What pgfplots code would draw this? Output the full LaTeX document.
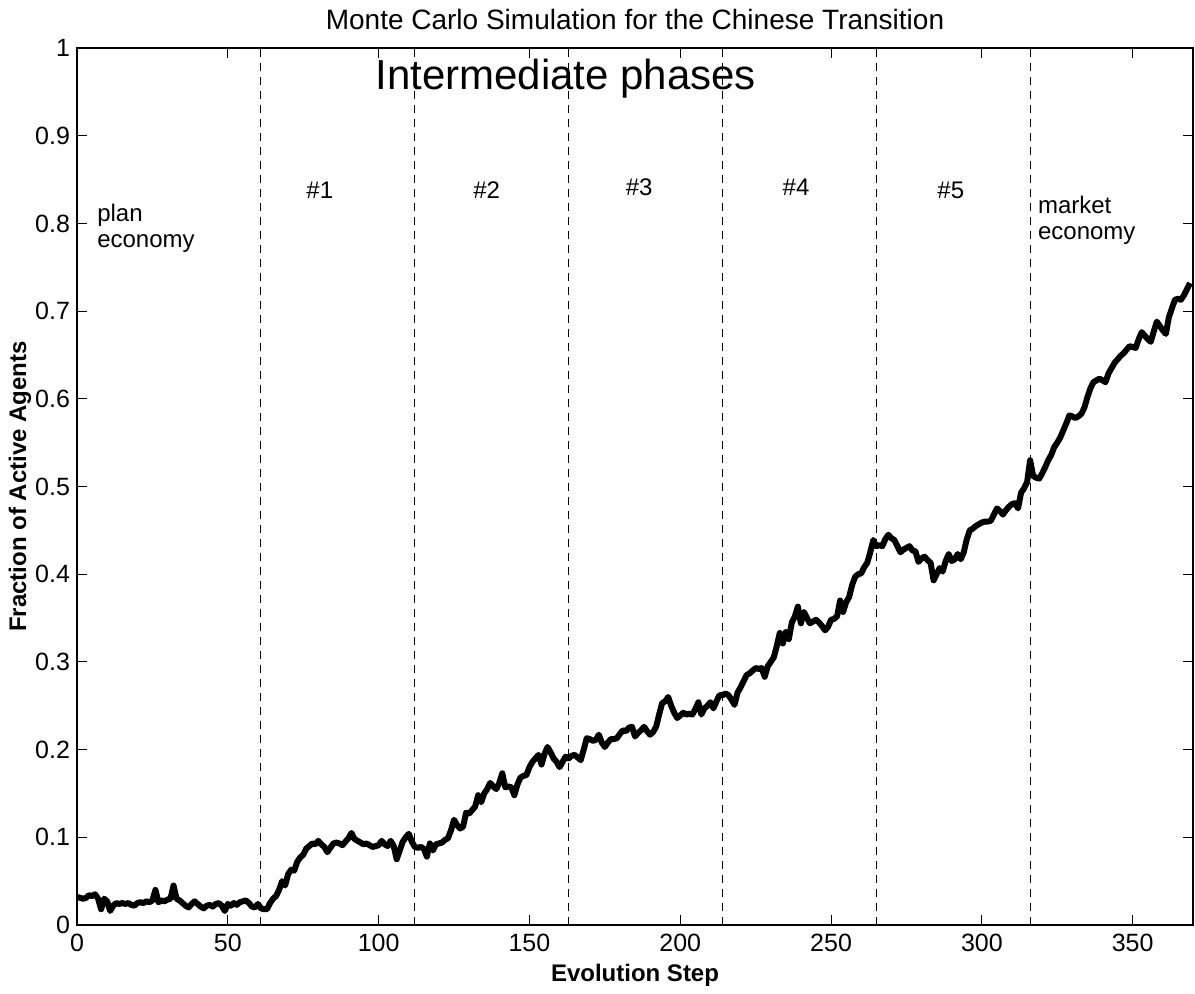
\documentclass[border=0pt]{standalone}
\usepackage{pgfplots}
\pgfplotsset{compat=1.18}
\usepackage{fontspec}
\setmainfont{Liberation Sans}
\begin{document}
\begin{tikzpicture}
\useasboundingbox (-38.5pt,-34pt) rectangle (559pt,462.5pt);
\begin{axis}[at={(0,0)}, anchor=south west, scale only axis,
  width=558pt, height=438.5pt,
  xmin=0, xmax=370, ymin=0, ymax=1,
  xtick={0,50,100,150,200,250,300,350},
  ytick={0,0.1,0.2,0.3,0.4,0.5,0.6,0.7,0.8,0.9,1},
  yticklabels={0,0.1,0.2,0.3,0.4,0.5,0.6,0.7,0.8,0.9,1},
  /pgf/number format/assume math mode=true,
  tick align=inside, major tick length=5pt,
  xtick pos=both, ytick pos=both,
  xticklabel pos=lower, yticklabel pos=left,
  tick style={black, line width=0.5pt},
  axis line style={line width=0.6pt},
  ticklabel style={font=\fontsize{12.5}{14}\selectfont},
  xticklabel style={yshift=-1pt},
  xlabel={Evolution Step},
  xlabel style={at={(axis description cs:0.5,-0.057)}, anchor=center, font=\bfseries\fontsize{12}{14}\selectfont},
  ylabel={Fraction of Active Agents},
  ylabel style={at={(axis description cs:-0.051,0.5)}, anchor=center, font=\bfseries\fontsize{12}{14}\selectfont},
  clip=false,
]
\addplot[black, line width=0.5pt, dash pattern=on 4pt off 3pt] coordinates {(61,0) (61,1)};
\addplot[black, line width=0.5pt, dash pattern=on 4pt off 3pt] coordinates {(112,0) (112,1)};
\addplot[black, line width=0.5pt, dash pattern=on 4pt off 3pt] coordinates {(163,0) (163,1)};
\addplot[black, line width=0.5pt, dash pattern=on 4pt off 3pt] coordinates {(214,0) (214,1)};
\addplot[black, line width=0.5pt, dash pattern=on 4pt off 3pt] coordinates {(265,0) (265,1)};
\addplot[black, line width=0.5pt, dash pattern=on 4pt off 3pt] coordinates {(316,0) (316,1)};
\addplot[black, line width=3pt, line join=round] table {
x y
0 0.032
1 0.031
2 0.030
3 0.031
4 0.034
5 0.033
6 0.035
7 0.030
8 0.018
9 0.030
10 0.027
11 0.016
12 0.022
13 0.025
14 0.024
15 0.025
16 0.024
17 0.025
18 0.023
19 0.022
20 0.025
21 0.026
22 0.025
23 0.027
24 0.026
25 0.028
26 0.040
27 0.026
28 0.028
29 0.027
30 0.029
31 0.030
32 0.045
33 0.030
34 0.028
35 0.025
36 0.022
37 0.020
38 0.024
39 0.027
40 0.024
41 0.021
42 0.019
43 0.022
44 0.023
45 0.021
46 0.024
47 0.025
48 0.022
49 0.016
50 0.024
51 0.022
52 0.025
53 0.023
54 0.026
55 0.027
56 0.028
57 0.025
58 0.021
59 0.020
60 0.024
61 0.019
62 0.018
63 0.018
64 0.025
65 0.030
66 0.033
67 0.040
68 0.050
69 0.045
70 0.058
71 0.063
72 0.062
73 0.072
74 0.077
75 0.080
76 0.087
77 0.090
78 0.093
79 0.092
80 0.096
81 0.092
82 0.089
83 0.083
84 0.088
85 0.093
86 0.094
87 0.093
88 0.091
89 0.095
90 0.099
91 0.105
92 0.098
93 0.096
94 0.094
95 0.092
96 0.093
97 0.091
98 0.089
99 0.090
100 0.091
101 0.096
102 0.092
103 0.090
104 0.096
105 0.090
106 0.075
107 0.085
108 0.095
109 0.100
110 0.104
111 0.095
112 0.089
113 0.088
114 0.089
115 0.087
116 0.078
117 0.093
118 0.085
119 0.092
120 0.093
121 0.094
122 0.097
123 0.099
124 0.108
125 0.120
126 0.114
127 0.110
128 0.112
129 0.128
130 0.127
131 0.131
132 0.135
133 0.148
134 0.140
135 0.150
136 0.155
137 0.162
138 0.158
139 0.155
140 0.162
141 0.173
142 0.157
143 0.158
144 0.157
145 0.148
146 0.160
147 0.168
148 0.170
149 0.171
150 0.180
151 0.186
152 0.190
153 0.194
154 0.183
155 0.195
156 0.203
157 0.197
158 0.190
159 0.186
160 0.180
161 0.186
162 0.192
163 0.190
164 0.193
165 0.194
166 0.191
167 0.188
168 0.200
169 0.213
170 0.212
171 0.210
172 0.211
173 0.217
174 0.208
175 0.203
176 0.208
177 0.212
178 0.212
179 0.213
180 0.218
181 0.222
182 0.221
183 0.225
184 0.226
185 0.215
186 0.219
187 0.222
188 0.226
189 0.221
190 0.217
191 0.220
192 0.226
193 0.240
194 0.253
195 0.255
196 0.260
197 0.250
198 0.242
199 0.236
200 0.239
201 0.242
202 0.240
203 0.241
204 0.240
205 0.246
206 0.254
207 0.240
208 0.247
209 0.250
210 0.254
211 0.247
212 0.255
213 0.262
214 0.262
215 0.264
216 0.262
217 0.257
218 0.251
219 0.265
220 0.271
221 0.278
222 0.285
223 0.287
224 0.290
225 0.293
226 0.292
227 0.293
228 0.283
229 0.295
230 0.300
231 0.305
232 0.318
233 0.333
234 0.321
235 0.334
236 0.326
237 0.345
238 0.352
239 0.363
240 0.344
241 0.357
242 0.350
243 0.344
244 0.346
245 0.348
246 0.345
247 0.341
248 0.336
249 0.340
250 0.348
251 0.349
252 0.352
253 0.370
254 0.357
255 0.368
256 0.374
257 0.388
258 0.397
259 0.400
260 0.401
261 0.408
262 0.413
263 0.425
264 0.439
265 0.432
266 0.433
267 0.432
268 0.440
269 0.445
270 0.441
271 0.439
272 0.432
273 0.425
274 0.428
275 0.430
276 0.432
277 0.427
278 0.426
279 0.414
280 0.418
281 0.420
282 0.416
283 0.413
284 0.393
285 0.400
286 0.407
287 0.403
288 0.415
289 0.423
290 0.415
291 0.417
292 0.423
293 0.417
294 0.425
295 0.440
296 0.450
297 0.452
298 0.455
299 0.457
300 0.459
301 0.460
302 0.460
303 0.461
304 0.468
305 0.475
306 0.472
307 0.468
308 0.473
309 0.477
310 0.480
311 0.481
312 0.475
313 0.493
314 0.498
315 0.505
316 0.530
317 0.512
318 0.510
319 0.509
320 0.515
321 0.522
322 0.530
323 0.536
324 0.545
325 0.550
326 0.556
327 0.564
328 0.572
329 0.581
330 0.580
331 0.578
332 0.580
333 0.583
334 0.590
335 0.602
336 0.612
337 0.619
338 0.621
339 0.623
340 0.621
341 0.619
342 0.629
343 0.635
344 0.641
345 0.645
346 0.649
347 0.652
348 0.656
349 0.660
350 0.659
351 0.658
352 0.668
353 0.676
354 0.672
355 0.668
356 0.665
357 0.677
358 0.688
359 0.683
360 0.678
361 0.674
362 0.693
363 0.703
364 0.713
365 0.714
366 0.713
367 0.718
368 0.725
369 0.732
};
\node[font=\fontsize{14}{16}\selectfont] at (axis description cs:0.5,1.032) {Monte Carlo Simulation for the Chinese Transition};
\node[font=\fontsize{21}{24}\selectfont] at (axis cs:162,0.965) {Intermediate phases};
\node[font=\fontsize{12}{14}\selectfont] at (axis cs:80.5,0.838) {\#1};
\node[font=\fontsize{12}{14}\selectfont] at (axis cs:135.8,0.838) {\#2};
\node[font=\fontsize{12}{14}\selectfont] at (axis cs:186.4,0.841) {\#3};
\node[font=\fontsize{12}{14}\selectfont] at (axis cs:238.4,0.841) {\#4};
\node[font=\fontsize{12}{14}\selectfont] at (axis cs:289.7,0.838) {\#5};
\node[font=\fontsize{12}{13}\selectfont, align=left, anchor=west, inner sep=0pt] at (axis cs:6.6,0.794) {plan\\economy};
\node[font=\fontsize{12}{13}\selectfont, align=left, anchor=west, inner sep=0pt] at (axis cs:318.5,0.804) {market\\economy};
\end{axis}
\end{tikzpicture}
\end{document}
